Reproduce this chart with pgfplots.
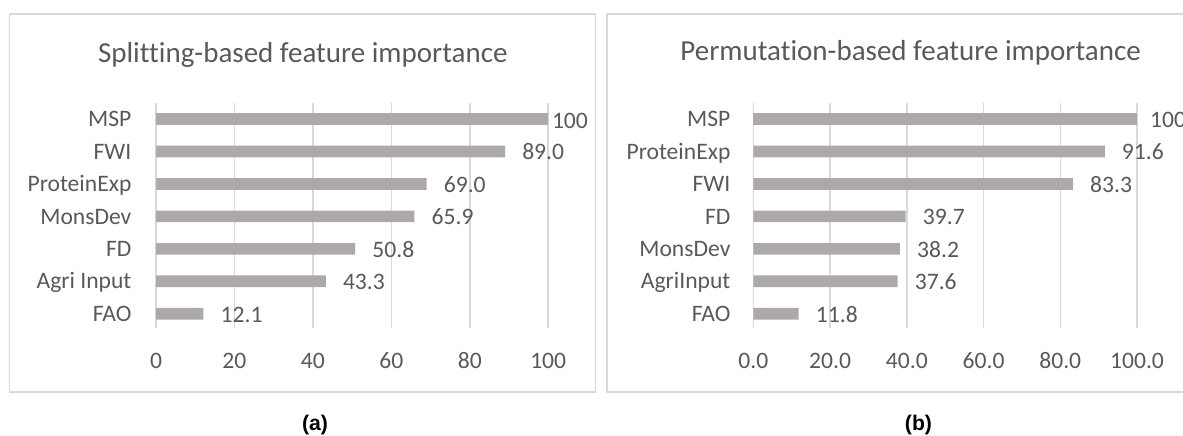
\documentclass[border=0pt]{standalone}
\usepackage{pgfplots}
\pgfplotsset{compat=1.18}
\usepackage{pgfplotstable}
\usepackage{fontspec}
\setmainfont{Carlito}[Ligatures=NoCommon]
\newfontfamily\capfont{Liberation Sans}
\definecolor{barc}{HTML}{ADA9A8}
\definecolor{txt}{HTML}{595959}
\definecolor{gridc}{HTML}{D9D9D9}

\pgfplotstableread{
y v lab
0 12.1 12.1
1 43.3 43.3
2 50.8 50.8
3 65.9 65.9
4 69.0 69.0
5 89.0 89.0
}\splitA
\pgfplotstableread{
y v lab
6 100 100
}\splitB
\pgfplotstableread{
y v lab
0 11.8 11.8
1 37.6 37.6
2 38.2 38.2
3 39.7 39.7
4 83.3 83.3
5 91.6 91.6
}\permA
\pgfplotstableread{
y v lab
6 100 100
}\permB

\pgfplotsset{
  fiplot/.style={
    scale only axis, height=112.4pt,
    xmin=0, xmax=100, ymin=-0.44, ymax=6.49,
    axis line style={draw=none},
    major tick length=0pt,
    xtick={0,20,40,60,80,100},
    ytick={0,1,2,3,4,5,6},
    xmajorgrids,
    grid style={color=gridc, line width=0.75pt},
    tick label style={font=\fontsize{11.8}{14}\selectfont, text=txt, inner sep=0pt},
    xticklabel style={anchor=base, yshift=-20pt},
    yticklabel style={anchor=base east, yshift=-3.8pt},
    xbar, bar width=5.8pt, bar shift=0pt,
    point meta=explicit symbolic,
    nodes near coords,
    every node near coord/.style={font=\fontsize{11.8}{14}\selectfont, text=txt, inner sep=0pt, anchor=base west, xshift=8.4pt, yshift=-4.2pt},
    clip=false,
  },
}

\begin{document}
\begin{tikzpicture}
\useasboundingbox (0pt,0pt) rectangle (591.5pt,217.5pt);
\clip (0pt,0pt) rectangle (591.5pt,217.5pt);
\draw[gridc, line width=0.75pt] (4.8pt,21.5pt) rectangle (297.8pt,210.5pt);
\draw[gridc, line width=0.75pt] (303.6pt,21.5pt) rectangle (600pt,210.5pt);
\node[anchor=base, text=txt, font=\fontsize{14.5}{17}\selectfont, inner sep=0pt] at (151.4pt,186.2pt) {Splitting-based feature importance};
\node[anchor=base, text=txt, font=\fontsize{14.5}{17}\selectfont, inner sep=0pt] at (455.3pt,187.5pt) {Permutation-based feature importance};
\node[anchor=base, font=\capfont\bfseries\fontsize{10.6}{13}\selectfont, inner sep=0pt] at (157.5pt,2.2pt) {(a)};
\node[anchor=base, font=\capfont\bfseries\fontsize{10.6}{13}\selectfont, inner sep=0pt] at (459.25pt,2.2pt) {(b)};

\begin{axis}[fiplot, at={(78pt,53.5pt)}, anchor=south west, width=196.1pt,
  xticklabels={0,20,40,60,80,100},
  yticklabels={FAO,Agri Input,FD,MonsDev,ProteinExp,FWI,MSP},
  yticklabel style={xshift=-12.1pt}]
\addplot[fill=barc, draw=none] table[x=v, y=y, meta=lab] {\splitA};
\addplot[fill=barc, draw=none, every node near coord/.append style={xshift=-6.7pt, yshift=-0.3pt}] table[x=v, y=y, meta=lab] {\splitB};
\end{axis}

\begin{axis}[fiplot, at={(376.7pt,53.5pt)}, anchor=south west, width=191.8pt,
  xticklabels={0.0,20.0,40.0,60.0,80.0,100.0},
  yticklabels={FAO,AgriInput,MonsDev,FD,FWI,ProteinExp,MSP},
  yticklabel style={xshift=-11.3pt}]
\addplot[fill=barc, draw=none] table[x=v, y=y, meta=lab] {\permA};
\addplot[fill=barc, draw=none, every node near coord/.append style={xshift=-2pt}] table[x=v, y=y, meta=lab] {\permB};
\end{axis}
\end{tikzpicture}
\end{document}
